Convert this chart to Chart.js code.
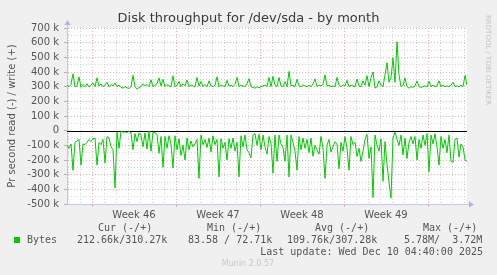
<!DOCTYPE html>
<html><head><meta charset="utf-8">
<script src="https://cdn.jsdelivr.net/npm/chart.js@4/dist/chart.umd.min.js"></script>
<style>html,body{margin:0;padding:0;background:#F0F0F0;}canvas{display:block;}</style>
</head><body>
<canvas id="c" width="497" height="275"></canvas>
<script>
const chartTitle = 'Disk throughput for /dev/sda - by month';
const yAxisTitle = 'Pr second read (-) / write (+)';
const weekLabels = ['Week 46', 'Week 47', 'Week 48', 'Week 49'];
const sampleStepHours = 4;           // one sample every 4 hours, starting at hour 0
const writeK = [310,300,315,388,300,305,367,295,315,300,
 320,298,310,325,300,360,305,318,300,312,
 330,300,315,305,325,300,310,295,290,300,
 292,288,300,377,300,282,295,300,320,305,
 315,300,347,300,310,320,360,305,350,300,
 315,305,300,374,300,310,335,300,320,305,
 345,300,312,305,300,363,305,335,300,315,
 300,340,305,300,310,367,300,312,305,300,
 343,305,310,300,315,363,300,310,305,300,
 320,355,300,295,290,300,292,300,305,310,
 300,363,300,370,310,300,363,305,300,335,
 300,404,305,310,300,350,305,300,312,305,
 300,310,300,320,353,300,310,305,315,380,
 305,310,300,305,300,363,310,300,312,305,
 343,300,310,305,300,352,305,300,340,310,
 375,300,362,400,290,300,340,310,300,380,
 463,330,360,497,330,606,380,300,310,360,
 300,290,300,295,305,340,300,295,300,305,
 298,338,300,310,300,305,340,300,310,300,
 305,300,310,330,300,305,300,310,300,377,
 310];
const readK = [100,120,90,270,80,70,60,235,90,95,
 80,60,75,55,50,235,80,95,60,220,
 40,50,110,130,390,10,120,5,10,8,
 12,5,15,130,20,75,15,30,110,15,
 125,5,140,10,15,25,155,40,250,40,
 120,35,90,255,35,130,55,170,100,200,
 50,130,70,110,90,60,325,30,95,60,
 115,50,145,35,95,60,315,55,120,80,
 200,55,120,50,140,80,315,35,110,30,
 130,150,185,30,20,100,25,130,30,110,
 160,40,90,290,30,210,30,90,115,210,
 30,315,30,80,140,270,40,130,50,120,
 60,150,50,175,100,130,160,40,120,325,
 100,60,145,110,75,90,260,80,140,40,
 120,270,40,95,80,175,120,210,140,60,
 25,190,110,455,30,100,140,55,345,75,
 230,350,460,50,10,60,100,30,165,50,
 190,80,40,90,40,200,60,120,30,100,
 20,280,30,90,20,110,235,40,120,60,
 150,30,210,215,60,50,180,90,110,200,
 210];
const seriesName = 'Bytes';
const legendHeaders = ['Cur (-/+)', 'Min (-/+)', 'Avg (-/+)', 'Max (-/+)'];
const legendValues = ['212.66k/310.27k', '83.58 / 72.71k', '109.76k/307.28k', '5.78M/  3.72M'];
const lastUpdate = 'Last update: Wed Dec 10 04:40:00 2025';
const footerText = 'Munin 2.0.57';
const sideText = 'RRDTOOL / TOBI OETIKER';

// time axis (hours from the left edge of the plot)
const axisHours = 800;
const firstDayLine = 2, firstMonday = 50;
const dayTicks = [];
for (let h = firstDayLine; h <= axisHours; h += 24) dayTicks.push(h);
const weekLabelTicks = weekLabels.map((_, k) => firstMonday + 84 + 168 * k);
const isDay = v => dayTicks.includes(v);
const isMonday = v => (v - firstMonday) % 168 === 0 && v >= firstMonday;

const GREEN = '#00CC00';
const MAJOR = 'rgba(235,150,150,0.75)';
const MINOR = 'rgba(205,205,205,0.85)';
const writeData = writeK.map((v, i) => ({x: i * sampleStepHours, y: v * 1000}));
const readData = readK.map((v, i) => ({x: i * sampleStepHours, y: -v * 1000}));

const SANS = '"DejaVu Sans", sans-serif';
const MONO = '"DejaVu Sans Mono", monospace';

const decor = {
  id: 'decor',
  beforeDraw(chart) {
    const {ctx, chartArea: a, width, height} = chart;
    ctx.save();
    ctx.fillStyle = '#F0F0F0';
    ctx.fillRect(0, 0, width, height);
    ctx.fillStyle = '#FFFFFF';
    ctx.fillRect(a.left, a.top, a.right - a.left, a.bottom - a.top);
    ctx.restore();
  },
  beforeDatasetsDraw(chart) {
    const {ctx, chartArea: a, scales: {y}} = chart;
    const py = Math.round(y.getPixelForValue(0)) + 0.5;
    ctx.save();
    ctx.strokeStyle = '#000000';
    ctx.lineWidth = 1;
    ctx.beginPath(); ctx.moveTo(a.left, py); ctx.lineTo(a.right, py); ctx.stroke();
    ctx.restore();
  },
  afterDraw(chart) {
    const {ctx, chartArea: a, width} = chart;
    ctx.save();
    // axis arrows
    ctx.strokeStyle = '#C4C4F4'; ctx.fillStyle = '#B0B0F0'; ctx.lineWidth = 1;
    const lx = Math.round(a.left) + 0.5, by = Math.round(a.bottom) + 0.5;
    ctx.beginPath(); ctx.moveTo(lx, a.top); ctx.lineTo(lx, a.top - 4); ctx.stroke();
    ctx.beginPath(); ctx.moveTo(lx - 3, a.top - 3); ctx.lineTo(lx + 3, a.top - 3); ctx.lineTo(lx, a.top - 8); ctx.closePath(); ctx.fill();
    ctx.beginPath(); ctx.moveTo(a.right, by); ctx.lineTo(a.right + 3, by); ctx.stroke();
    ctx.beginPath(); ctx.moveTo(a.right + 2, by - 3); ctx.lineTo(a.right + 2, by + 3); ctx.lineTo(a.right + 7, by); ctx.closePath(); ctx.fill();

    // title
    ctx.fillStyle = '#3A3A3A';
    ctx.font = '13px ' + SANS;
    ctx.textAlign = 'center'; ctx.textBaseline = 'middle';
    ctx.fillText(chartTitle, width / 2, 19);

    // y axis title
    ctx.save();
    ctx.translate(12, (a.top + a.bottom) / 2);
    ctx.rotate(-Math.PI / 2);
    ctx.fillStyle = '#555555';
    ctx.font = '10px ' + SANS;
    ctx.fillText(yAxisTitle, 0, 0);
    ctx.restore();

    // side text
    ctx.save();
    ctx.translate(488, 15);
    ctx.rotate(Math.PI / 2);
    ctx.fillStyle = '#C4C4C4';
    ctx.font = '7px ' + SANS;
    ctx.textAlign = 'left';
    ctx.fillText(sideText, 0, 0);
    ctx.restore();

    // legend
    ctx.font = '10px ' + MONO;
    ctx.fillStyle = '#555555';
    ctx.textAlign = 'left'; ctx.textBaseline = 'middle';
    const colX = [98, 207, 315, 423];
    const valX = [77, 188, 287, 404];
    legendHeaders.forEach((t, i) => ctx.fillText(t, colX[i], 228));
    ctx.fillStyle = GREEN;
    ctx.fillRect(14, 237, 6, 6);
    ctx.fillStyle = '#555555';
    ctx.fillText(seriesName, 27, 240);
    legendValues.forEach((t, i) => ctx.fillText(t, valX[i], 240));
    ctx.textAlign = 'right';
    ctx.fillText(lastUpdate, 483, 252);
    ctx.textAlign = 'center';
    ctx.fillStyle = '#C8C8C8';
    ctx.font = '8px ' + SANS;
    ctx.fillText(footerText, 248, 264);
    ctx.restore();
  }
};

new Chart(document.getElementById('c'), {
  type: 'line',
  data: {
    datasets: [
      {label: 'write', data: writeData, borderColor: GREEN, borderWidth: 1, pointRadius: 0, tension: 0, fill: false},
      {label: 'read', data: readData, borderColor: GREEN, borderWidth: 1, pointRadius: 0, tension: 0, fill: false}
    ]
  },
  options: {
    responsive: false, animation: false, devicePixelRatio: 1,
    layout: {padding: {top: 28, right: 30, left: 0, bottom: 0}},
    plugins: {legend: {display: false}, title: {display: false}, tooltip: {enabled: false}},
    scales: {
      x: {
        type: 'linear', min: 0, max: axisHours,
        afterFit(s) { s.height = 71; },
        afterBuildTicks(s) { s.ticks = dayTicks.concat(weekLabelTicks).sort((p, q) => p - q).map(v => ({value: v})); },
        ticks: {
          autoSkip: false, maxRotation: 0, padding: 2, color: '#555555',
          font: {family: SANS, size: 10},
          callback: v => { const k = weekLabelTicks.indexOf(v); return k >= 0 ? weekLabels[k] : ''; }
        },
        grid: {
          lineWidth: 1, tickLength: 3,
          color: c => !c.tick || !isDay(c.tick.value) ? 'rgba(0,0,0,0)' : (isMonday(c.tick.value) ? MAJOR : MINOR),
          tickColor: c => c.tick && isMonday(c.tick.value) ? MAJOR : 'rgba(0,0,0,0)'
        },
        border: {color: '#C4C4F4', width: 1, dash: [1, 2]}
      },
      y: {
        min: -500000, max: 700000,
        afterFit(s) { s.width = 67; },
        ticks: {
          stepSize: 50000, autoSkip: false, padding: 5, color: '#555555',
          font: {family: SANS, size: 10},
          callback: v => v % 100000 !== 0 ? '' : (v === 0 ? '0' : (v / 1000) + ' k')
        },
        grid: {
          lineWidth: 1, tickLength: 3,
          color: c => !c.tick || c.tick.value === 0 ? 'rgba(0,0,0,0)' : (c.tick.value % 100000 === 0 ? MAJOR : MINOR),
          tickColor: c => c.tick && c.tick.value % 100000 === 0 ? 'rgba(170,170,170,0.9)' : 'rgba(0,0,0,0)'
        },
        border: {color: '#C4C4F4', width: 1, dash: [1, 2]}
      }
    }
  },
  plugins: [decor]
});
</script>
</body></html>
